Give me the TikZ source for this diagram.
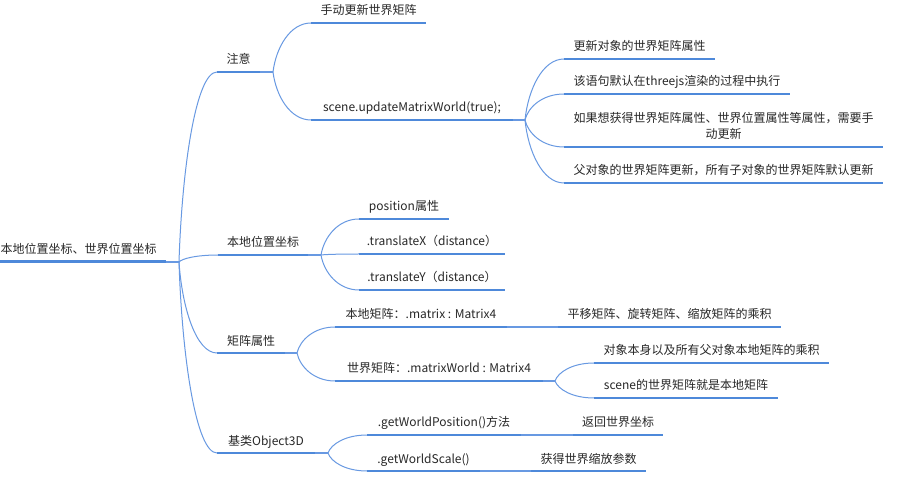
\documentclass[tikz,border=0pt]{standalone}
\usepackage{fontspec}
\setmainfont{Noto Sans CJK SC}
\usetikzlibrary{calc}
\definecolor{ulblue}{RGB}{78,137,218}
\definecolor{lnblue}{RGB}{104,153,226}
\definecolor{txtgray}{RGB}{40,40,40}
\tikzset{
  txt/.style={font=\fontsize{12}{16}\selectfont, text=txtgray, inner sep=0pt},
  ul/.style={draw=ulblue, line width=2.6pt},
  ulroot/.style={draw=ulblue, line width=3pt},
  ext/.style={draw=lnblue, line width=1.3pt},
  conn/.style={draw=lnblue, line width=1pt},
}
\newcommand\topic[5]{%
  \coordinate (#1-s) at (#2,#4);
  \coordinate (#1-e) at (#3,#4);
  \draw[ul] (#1-s) -- (#1-e);
  \node[txt, anchor=base] (#1) at ({(#2+#3)/2},{#4-8}) {#5};}
\newcommand\lnk[2]{%
  \path ($(#1)!0.08!(#2)$) coordinate (qa) ($(#1)!0.5!(#2)$) coordinate (qb) ($(#1)!0.45!(#2)$) coordinate (qc);
  \draw[conn] (#1) .. controls (qa |- qb) and (qc |- #2) .. (#2);}
\begin{document}
\begin{tikzpicture}[x=1pt,y=-1pt]
\useasboundingbox[fill=white] (0,0) rectangle (898,481);
% junctions
\coordinate (rootj) at (179,262);
\coordinate (zyj) at (273,72);
\coordinate (bdj) at (321,255);
\coordinate (jzj) at (297,353);
\coordinate (jlj) at (328,453);
\coordinate (scj) at (525,120);
\coordinate (m2j) at (555,381);
% connectors from root
\coordinate (zy-s) at (217,72);
\coordinate (bd-s) at (218,255);
\coordinate (jz-s) at (217,353);
\coordinate (jl-s) at (217,453);
\lnk{rootj}{zy-s}
\lnk{rootj}{bd-s}
\lnk{rootj}{jz-s}
\lnk{rootj}{jl-s}
% level 2 links
\coordinate (sd-s) at (311,23);
\coordinate (sc-s) at (311,120);
\lnk{zyj}{sd-s}
\lnk{zyj}{sc-s}
\coordinate (c1-s) at (564,59);
\coordinate (c2-s) at (564,94);
\coordinate (c3-s) at (564,147);
\coordinate (c4-s) at (564,183);
\lnk{scj}{c1-s}
\lnk{scj}{c2-s}
\lnk{scj}{c3-s}
\lnk{scj}{c4-s}
\coordinate (p1-s) at (359,219);
\coordinate (p2-s) at (359,254);
\coordinate (p3-s) at (359,290);
\lnk{bdj}{p1-s}
\lnk{bdj}{p2-s}
\lnk{bdj}{p3-s}
\coordinate (m1-s) at (335,327);
\coordinate (m2-s) at (335,381);
\lnk{jzj}{m1-s}
\lnk{jzj}{m2-s}
\coordinate (m2a-s) at (594,363);
\coordinate (m2b-s) at (594,398);
\lnk{m2j}{m2a-s}
\lnk{m2j}{m2b-s}
\coordinate (o1-s) at (367,435);
\coordinate (o2-s) at (367,471);
\lnk{jlj}{o1-s}
\lnk{jlj}{o2-s}
% root
\coordinate (root-s) at (0,262);
\coordinate (root-e) at (166,262);
\draw[ulroot] (root-s) -- (root-e);
\node[txt, anchor=base west] (root) at (0.5,254) {本地位置坐标、世界位置坐标};
\draw[ext] (root-e) -- (rootj);
% level 1
\topic{zy}{217}{260}{72}{注意}
\topic{bd}{218}{308}{255}{本地位置坐标}
\topic{jz}{217}{285}{353}{矩阵属性}
\topic{jl}{217}{315}{453}{基类Object3D}
\draw[ext] (zy-e) -- (zyj);
\draw[ext] (bd-e) -- (bdj);
\draw[ext] (jz-e) -- (jzj);
\draw[ext] (jl-e) -- (jlj);
% 注意 children
\topic{sd}{311}{426}{23}{手动更新世界矩阵}
\topic{sc}{311}{513}{120}{scene.updateMatrixWorld(true);}
\draw[ext] (sc-e) -- (scj);
\topic{c1}{564}{715}{59}{更新对象的世界矩阵属性}
\topic{c2}{564}{790}{94}{该语句默认在threejs渲染的过程中执行}
\coordinate (c3-s) at (564,147);
\coordinate (c3-e) at (883,147);
\draw[ul] (c3-s) -- (c3-e);
\node[txt, anchor=south, align=center] (c3) at (723.5,140) {如果想获得世界矩阵属性、世界位置属性等属性，需要手\\动更新};
\topic{c4}{564}{883}{183}{父对象的世界矩阵更新，所有子对象的世界矩阵默认更新}
% 本地位置坐标 children
\topic{p1}{359}{449}{219}{position属性}
\topic{p2}{359}{505}{254}{.translateX（distance）}
\topic{p3}{359}{505}{290}{.translateY（distance）}
% 矩阵属性 children
\topic{m1}{335}{507}{327}{本地矩阵：.matrix : Matrix4}
\topic{m1c}{558}{781}{327}{平移矩阵、旋转矩阵、缩放矩阵的乘积}
\draw[ext] (m1-e) -- (m1c-s);
\topic{m2}{335}{543}{381}{世界矩阵：.matrixWorld : Matrix4}
\draw[ext] (m2-e) -- (m2j);
\topic{m2a}{594}{829}{363}{对象本身以及所有父对象本地矩阵的乘积}
\topic{m2b}{594}{778}{398}{scene的世界矩阵就是本地矩阵}
% 基类 children
\topic{o1}{367}{521}{435}{.getWorldPosition()方法}
\topic{o1c}{573}{663}{435}{返回世界坐标}
\draw[ext] (o1-e) -- (o1c-s);
\topic{o2}{367}{480}{471}{.getWorldScale()}
\topic{o2c}{531}{646}{471}{获得世界缩放参数}
\draw[ext] (o2-e) -- (o2c-s);
\end{tikzpicture}
\end{document}
